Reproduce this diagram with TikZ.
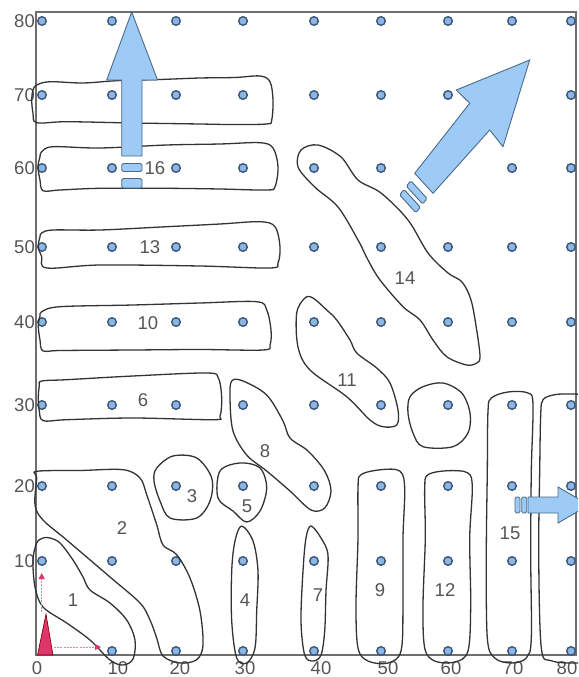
\documentclass[tikz,border=0pt]{standalone}
\usepackage{fontspec}
\setmainfont{Liberation Sans}
\usetikzlibrary{arrows.meta}
\definecolor{dotfill}{HTML}{8DB6E2}
\definecolor{dotline}{HTML}{3A5678}
\definecolor{arrfill}{HTML}{9DCBF5}
\definecolor{arrline}{HTML}{4A6A8C}
\definecolor{lbl}{HTML}{555555}
\definecolor{axisc}{HTML}{6E6E6E}
\definecolor{redf}{HTML}{E0356A}
\definecolor{redl}{HTML}{F07A9E}
\begin{document}
\begin{tikzpicture}[x=1pt,y=-1pt,
  blob/.style={draw=black!80, line width=1.3pt, line join=round},
  gdot/.style={circle, draw=dotline, fill=dotfill, line width=1.4pt, minimum size=8.6pt, inner sep=0pt},
  lab/.style={text=lbl, font=\fontsize{18.5}{18.5}\selectfont, inner sep=0pt},
  blockarrow/.style={draw=arrline, fill=arrfill, line width=0.9pt, line join=miter},
  stripe/.style={draw=arrline, fill=arrfill, line width=0.9pt, rounded corners=1.5pt},
  axisline/.style={draw=axisc, line width=1.4pt},
  redarrow/.style={draw=redl, line width=0.9pt, dash pattern=on 2pt off 1.2pt, -{Triangle[length=6pt,width=6pt,color=redf,fill=redf]}}
]
\useasboundingbox (0,0) rectangle (578,677);
\clip (0,0) rectangle (578,677);

% frame
\draw[axisline] (36,12) rectangle (576,655);

% grid dots
\foreach \x [count=\i] in {42,112,176,243,314,381,448,512,571} {
  \foreach \y [count=\j] in {21,95,168,247,322,405,486,561,651} {
    \ifnum\i=1 \ifnum\j=9 \else \node[gdot] (d\i-\j) at (\x,\y) {}; \fi
    \else \node[gdot] (d\i-\j) at (\x,\y) {}; \fi
  }
}

% axis labels
\foreach \v/\y in {80/21,70/95,60/168,50/247,40/322,30/405,20/486,10/561} {
  \node[lab, anchor=east] (yl\v) at (35,\y) {\v};
}
\node[lab] (xl0) at (37,668) {0};
\foreach \v/\x in {10/118,20/180,30/245,40/321,50/388,60/451,70/513,80/567} {
  \node[lab] (xl\v) at (\x,668) {\v};
}

% horizontal blobs
\draw[blob] plot[smooth cycle, tension=0.55] coordinates {(36.7,85) (50,81.7) (83,83) (116.7,80.7) (160,79.5) (200,78) (235,77.5) (260,76) (270,81.7) (273,100) (271.7,120) (266.7,124) (230,124.5) (200,124) (133,123) (66.7,121.7) (36.7,122.7) (33,113) (31.7,100) (33,90)};
\draw[blob] plot[smooth cycle, tension=0.55] coordinates {(41.7,151.7) (53,146.7) (100,148) (166.7,145) (220,144) (260,142.7) (273,148) (278,166.7) (275,186.7) (266.7,190) (220,189) (166.7,188.3) (100,188.3) (60,190) (43,190.7) (40,180) (38,166.7) (40,156.7)};
\draw[blob] plot[smooth cycle, tension=0.55] coordinates {(41.7,233) (53,230) (100,230) (166.7,226.7) (220,224) (260,221.7) (275,226.7) (280,246.7) (278,263) (270,268) (200,266) (100,265) (46.7,268) (41.7,256.7) (38.3,246.7) (40,236.7)};
\draw[blob] plot[smooth cycle, tension=0.55] coordinates {(41.7,311.7) (60,306.7) (133,305) (200,303) (256.7,301.7) (266.7,310) (271,330) (270,345) (263,350) (200,349.5) (133,350) (60,350.5) (43,351) (40,340) (38.3,326) (40,316)};
\draw[blob] plot[smooth cycle, tension=0.55] coordinates {(41.7,381) (66.7,379.7) (133,376) (206.7,373) (218.3,378) (221.7,398) (220,416.3) (213.3,419.7) (133,418) (66.7,419.7) (43.3,420.7) (39.3,411) (38.3,398) (39.3,386)};

% blob 2
\draw[blob] plot[smooth cycle, tension=0.55] coordinates {(36.7,471.3) (80,470.5) (123,469.7) (140,478) (146.7,494.7) (156.7,524.7) (163,545) (176.7,554.7) (190,578) (200,611) (203,645) (196.7,659.7) (180,663) (163,656) (156.7,638) (150,620) (140,603) (110,577) (66.7,540) (43,520) (35,505) (36.7,478)};
% blob 1
\draw[blob] plot[smooth cycle, tension=0.55] coordinates {(43,538) (36.7,543) (33,560) (35,587) (43,607) (66.7,623) (90,640) (110,660) (123,665) (133,659) (135,640) (126.7,620) (110,603) (90,590) (83,577) (73,560) (60,543) (50,538)};
% blob 3
\draw[blob] plot[smooth cycle, tension=0.55] coordinates {(156.7,468) (173,456) (196.7,458) (211.7,478) (210,501) (196.7,518) (170,518) (160,501) (154,481)};
% blob 5
\draw[blob] plot[smooth cycle, tension=0.55] coordinates {(220,471) (240,463) (260,468) (266.7,488) (260,511) (246.7,522) (233,511) (218,498)};
% blob 4
\draw[blob] plot[smooth cycle, tension=0.55] coordinates {(241.7,526) (253,541) (258,571) (256.7,611) (255,648) (246.7,663) (236.7,658) (231.7,621) (231.7,571) (235,541)};
% blob 8
\draw[blob] plot[smooth cycle, tension=0.55] coordinates {(231.7,381) (243,381) (266.7,395) (283,421) (290,438) (308,451) (324.7,471) (331,491) (324.7,508) (311,510) (290,491) (266.7,471) (246.7,455) (233,431) (230,398)};
% blob 7
\draw[blob] plot[smooth cycle, tension=0.55] coordinates {(311,526) (321,538) (328,555) (326,591) (324.7,631) (321,655) (313,661) (304.7,655) (301,621) (303,571) (306,538)};
% blob 9
\draw[blob] plot[smooth cycle, tension=0.55] coordinates {(361,474.7) (381,469.7) (399.7,471) (404.7,488) (403,538) (403,605) (401,651) (388,663) (368,661) (358,648) (356,605) (358,538) (358,488)};
% blob 12
\draw[blob] plot[smooth cycle, tension=0.55] coordinates {(428,474.7) (448,470.7) (468,473) (472.3,488) (469.7,538) (470.7,605) (468,651) (454.7,662) (434.7,661) (424.7,648) (423,605) (425.3,538) (424.7,488)};
% blob 15
\draw[blob] plot[smooth cycle, tension=0.55] coordinates {(491.3,398) (508,392) (528,393) (533,404.7) (531.3,471) (530.7,554.7) (531.3,638) (526.3,658) (511.3,663) (494.7,658) (487.3,638) (486.3,554.7) (487.3,471) (488,411)};
% blob at column 80
\draw[blob] plot[smooth cycle, tension=0.55] coordinates {(543,399.7) (554.7,394.7) (571.3,394) (583,396) (592,410) (592,640) (585,660) (574.7,663) (551.3,660.7) (541.3,648) (538.7,554.7) (539.7,471) (540.7,414.7)};
% round blob at (60,30)
\draw[blob] plot[smooth cycle, tension=0.55] coordinates {(410,396.7) (423,386.7) (443,383) (461.7,393) (470,413) (468,433) (453,446.7) (423,446.7) (413,433) (408,413)};
% blob 11
\draw[blob] plot[smooth cycle, tension=0.55] coordinates {(305,298) (313,298) (326.7,310) (336.7,320) (350,340) (356.7,353) (376.7,368) (390,383) (398,410) (396.7,425) (383,426.7) (370,420) (346.7,396.7) (310,370) (298,347) (296.7,313)};
% blob 14
\draw[blob] plot[smooth cycle, tension=0.55] coordinates {(301,150) (318,145) (341,157) (358,180) (381,193) (408,220) (428,253) (448,273) (462,282) (471,300) (476.7,330) (480,356.7) (476.7,363) (466.7,365) (446.7,356.7) (433,340) (420,320) (403,306.7) (380,280) (368,260) (358,240) (338,207) (314.7,187) (298,167)};

% region labels
\node[lab] (r1) at (73,600) {1};
\node[lab] (r2) at (122,528) {2};
\node[lab] (r3) at (192,496) {3};
\node[lab] (r4) at (245,600) {4};
\node[lab] (r5) at (247,506) {5};
\node[lab] (r6) at (143,400) {6};
\node[lab] (r7) at (318,595) {7};
\node[lab] (r8) at (265,451) {8};
\node[lab] (r9) at (380,590) {9};
\node[lab] (r10) at (148,323) {10};
\node[lab] (r11) at (347,380) {11};
\node[lab] (r12) at (445,590) {12};
\node[lab] (r13) at (150,247) {13};
\node[lab] (r14) at (405,278) {14};
\node[lab] (r15) at (510,533) {15};
\node[lab] (r16) at (155,168) {16};

% up arrow
\draw[blockarrow] (131.7,12) -- (157.5,80) -- (142,80) -- (142,156) -- (121.7,156) -- (121.7,80) -- (106.7,80) -- cycle;
\draw[stripe] (121.7,163.5) rectangle (142,171.5);
\draw[stripe] (121.7,178.5) rectangle (142,188);

% diagonal arrow
\draw[blockarrow] (529.7,60) -- (503,146.7) -- (489.7,130) -- (433,193.3) -- (414.7,173.3) -- (469.7,103.3) -- (456.3,90) -- cycle;
\draw[stripe] (410.8,180.7) -- (427.1,198.5) -- (422.7,204.0) -- (406.4,186.2) -- cycle;
\draw[stripe] (404.0,189.4) -- (420.3,207.2) -- (415.9,212.7) -- (399.6,194.9) -- cycle;

% right arrow
\draw[stripe] (515,497) rectangle (520,513);
\draw[stripe] (521.7,497) rectangle (526.7,513);
\draw[blockarrow] (528,497) -- (558,497) -- (558,487) -- (589,505) -- (558,523) -- (558,513) -- (528,513) -- cycle;

% origin markers
\coordinate (rv0) at (41.7,612);
\coordinate (rv1) at (41.7,573);
\coordinate (rh0) at (54,647);
\coordinate (rh1) at (101,647);
\draw[redarrow] (rv0) -- (rv1);
\draw[redarrow] (rh0) -- (rh1);
\draw[fill=redf, draw=red!45!black, line width=0.6pt] (37.5,655) -- (46,614) -- (53,655) -- cycle;
\end{tikzpicture}
\end{document}
